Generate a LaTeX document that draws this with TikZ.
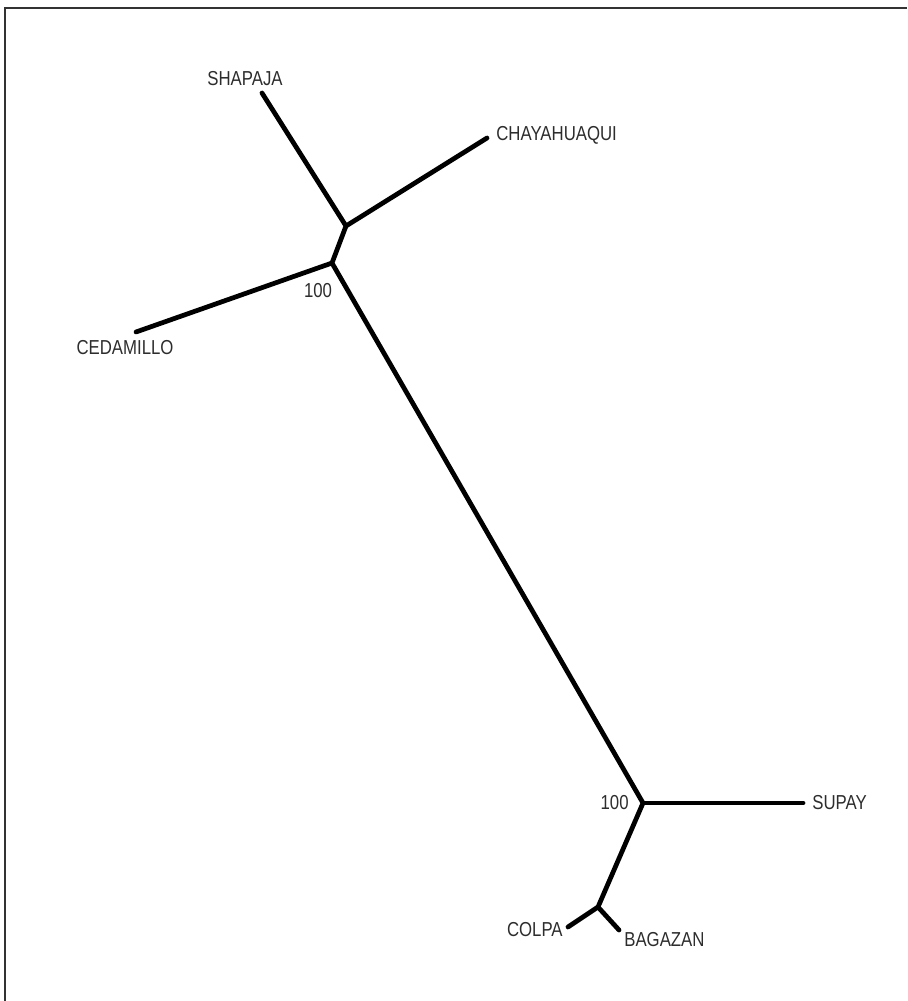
\documentclass[tikz,border=0pt]{standalone}
\usepackage{fontspec}
\setmainfont{Liberation Sans}[FakeStretch=0.83]
\usepackage{tikz}
\usetikzlibrary{positioning}
\definecolor{cFrame}{RGB}{51,51,51}
\definecolor{cLabel}{RGB}{45,45,45}
\tikzset{
	branch/.style ={line width=2.7pt, line cap=round, line join=round, black},
	taxon/.style  ={inner sep=0pt, text=cLabel, font=\fontsize{11.5}{13}\selectfont},
	boot/.style   ={taxon},
	frame/.style  ={line width=1.4pt, cFrame},
}

\begin{document}
\begin{tikzpicture}[x=0.02cm, y=-0.02cm]
	\useasboundingbox (0,0) rectangle (907,1001);
	\draw[frame] (5,1001) -- (5,8) -- (907,8);
	% internal nodes and tips
	\coordinate (nA) at (346,226);
	\coordinate (nB) at (332,263);
	\coordinate (nC) at (643,803);
	\coordinate (nD) at (598,907);
	\coordinate (tShap) at (262,93);
	\coordinate (tChay) at (487,138);
	\coordinate (tCeda) at (136,332);
	\coordinate (tSupa) at (803,803);
	\coordinate (tColp) at (568,927);
	\coordinate (tBaga) at (619,930);
	\draw[branch] (tShap) -- (nA) -- (nB) -- (nC) -- (nD) -- (tColp);
	\draw[branch] (nA) -- (tChay);
	\draw[branch] (nB) -- (tCeda);
	\draw[branch] (nC) -- (tSupa);
	\draw[branch] (nD) -- (tBaga);
	% labels
	\node[taxon, anchor=base] (lShap) at (245,85) {SHAPAJA};
	\node[taxon, anchor=base west] (lChay) at (496,140) {CHAYAHUAQUI};
	\node[taxon, anchor=base] (lCeda) at (125,354) {CEDAMILLO};
	\node[taxon, anchor=base west] (lSupa) at (812,809) {SUPAY};
	\node[taxon, anchor=base east] (lColp) at (563,936) {COLPA};
	\node[taxon, anchor=base west] (lBaga) at (624,946) {BAGAZAN};
	\node[boot, anchor=base] (bTop) at (318,297) {100};
	\node[boot, anchor=base east] (bBot) at (629,809) {100};
\end{tikzpicture}
\end{document}
